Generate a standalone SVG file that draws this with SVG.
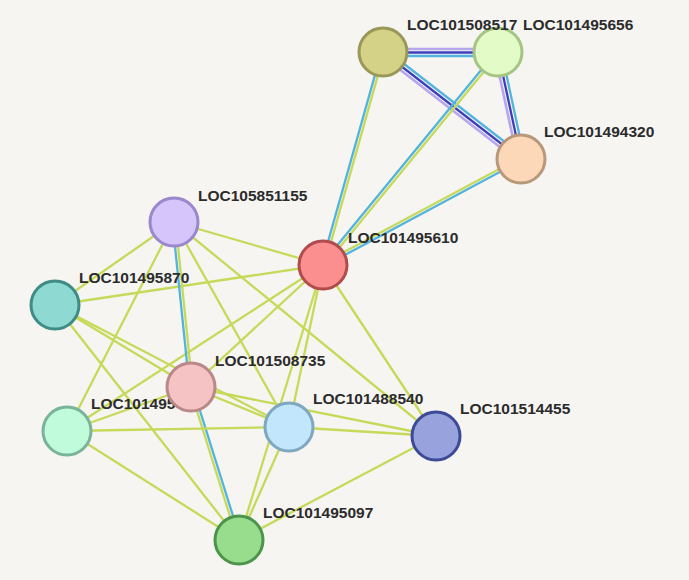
<svg xmlns="http://www.w3.org/2000/svg" width="689" height="580" viewBox="0 0 689 580">
<style>
.e{stroke-width:2.3;fill:none;stroke-linecap:round}
.yg{stroke:#c6da5a}
.cy{stroke:#52b4dc}
.pu{stroke:#b6a6ee;stroke-width:2.6}
.nv{stroke:#3e3ebc}
.n{stroke-width:3}
.t{font-family:"Liberation Sans",Arial,sans-serif;font-size:15.5px;font-weight:bold;fill:#2b2b2b}
</style>
<rect width="689" height="580" fill="#f6f5f2"/>
<g id="edges">
<line class="e pu" x1="383" y1="49" x2="498" y2="49"/>
<line class="e nv" x1="383" y1="52.5" x2="498" y2="52.5"/>
<line class="e cy" x1="383" y1="56" x2="498" y2="56"/>
<line class="e pu" x1="380.85" y1="54.77" x2="518.85" y2="161.77"/>
<line class="e nv" x1="383" y1="52" x2="521" y2="159"/>
<line class="e cy" x1="385.15" y1="49.23" x2="523.15" y2="156.23"/>
<line class="e pu" x1="494.58" y1="52.74" x2="517.58" y2="159.74"/>
<line class="e nv" x1="498" y1="52" x2="521" y2="159"/>
<line class="e cy" x1="501.42" y1="51.26" x2="524.42" y2="158.26"/>
<line class="e cy" x1="381.6" y1="51.6" x2="321.6" y2="264.6"/>
<line class="e yg" x1="384.4" y1="52.4" x2="324.4" y2="265.4"/>
<line class="e cy" x1="496.8" y1="51.1" x2="321.8" y2="264.1"/>
<line class="e yg" x1="499.2" y1="53" x2="324.2" y2="266"/>
<line class="e yg" x1="520.3" y1="157.7" x2="322.3" y2="263.7"/>
<line class="e cy" x1="521.7" y1="160.3" x2="323.7" y2="266.3"/>
<line class="e yg" x1="323" y1="265" x2="174" y2="222"/>
<line class="e yg" x1="323" y1="265" x2="55" y2="305"/>
<line class="e yg" x1="323" y1="265" x2="191" y2="387"/>
<line class="e yg" x1="323" y1="265" x2="67" y2="431"/>
<line class="e yg" x1="323" y1="265" x2="289" y2="427"/>
<line class="e yg" x1="323" y1="265" x2="239" y2="540"/>
<line class="e yg" x1="323" y1="265" x2="436" y2="436"/>
<line class="e yg" x1="174" y1="222" x2="55" y2="305"/>
<line class="e yg" x1="174" y1="222" x2="67" y2="431"/>
<line class="e yg" x1="174" y1="222" x2="289" y2="427"/>
<line class="e yg" x1="174" y1="222" x2="436" y2="436"/>
<line class="e cy" x1="172.5" y1="222.2" x2="189.5" y2="387.2"/>
<line class="e yg" x1="175.5" y1="221.8" x2="192.5" y2="386.8"/>
<line class="e yg" x1="55" y1="305" x2="191" y2="387"/>
<line class="e yg" x1="55" y1="305" x2="289" y2="427"/>
<line class="e yg" x1="55" y1="305" x2="239" y2="540"/>
<line class="e yg" x1="191" y1="387" x2="67" y2="431"/>
<line class="e yg" x1="191" y1="387" x2="289" y2="427"/>
<line class="e yg" x1="191" y1="387" x2="436" y2="436"/>
<line class="e yg" x1="189.6" y1="387.5" x2="237.6" y2="540.5"/>
<line class="e cy" x1="192.4" y1="386.5" x2="240.4" y2="539.5"/>
<line class="e yg" x1="67" y1="431" x2="289" y2="427"/>
<line class="e yg" x1="67" y1="431" x2="239" y2="540"/>
<line class="e yg" x1="289" y1="427" x2="436" y2="436"/>
<line class="e yg" x1="289" y1="427" x2="239" y2="540"/>
<line class="e yg" x1="436" y1="436" x2="239" y2="540"/>
</g>
<g id="LOC101495656"><circle class="n" cx="498" cy="52" r="24" fill="#e3fbc6" stroke="#a6c483"/><text class="t" x="523" y="30">LOC101495656</text></g>
<g id="LOC101508517"><circle class="n" cx="383" cy="52" r="24" fill="#d4d286" stroke="#999858"/><text class="t" x="407" y="30">LOC101508517</text></g>
<g id="LOC101494320"><circle class="n" cx="521" cy="159" r="24" fill="#fcd8b8" stroke="#b8987b"/><text class="t" x="544" y="137">LOC101494320</text></g>
<g id="LOC101495610"><circle class="n" cx="323" cy="265" r="24" fill="#fb8e8e" stroke="#b04c4c"/><text class="t" x="348" y="243">LOC101495610</text></g>
<g id="LOC105851155"><circle class="n" cx="174" cy="222" r="24" fill="#d6c5fb" stroke="#9a87cc"/><text class="t" x="198" y="201">LOC105851155</text></g>
<g id="LOC101495870"><circle class="n" cx="55" cy="305" r="24" fill="#8ed9d2" stroke="#3e8c85"/><text class="t" x="79" y="283">LOC101495870</text></g>
<g id="LOC10149"><circle class="n" cx="67" cy="431" r="24" fill="#c0fbdc" stroke="#79b498"/><text class="t" x="91" y="409">LOC101495</text></g>
<g id="LOC101508735"><circle class="n" cx="191" cy="387" r="24" fill="#f5c3c3" stroke="#b98888"/><text class="t" x="215" y="366">LOC101508735</text></g>
<g id="LOC101488540"><circle class="n" cx="289" cy="427" r="24" fill="#c2e6fb" stroke="#7ea8c0"/><text class="t" x="313" y="404">LOC101488540</text></g>
<g id="LOC101514455"><circle class="n" cx="436" cy="436" r="24" fill="#98a2dc" stroke="#3c4a98"/><text class="t" x="460" y="414">LOC101514455</text></g>
<g id="LOC101495097"><circle class="n" cx="239" cy="540" r="24" fill="#98dc8e" stroke="#4c944a"/><text class="t" x="263" y="518">LOC101495097</text></g>
</svg>
